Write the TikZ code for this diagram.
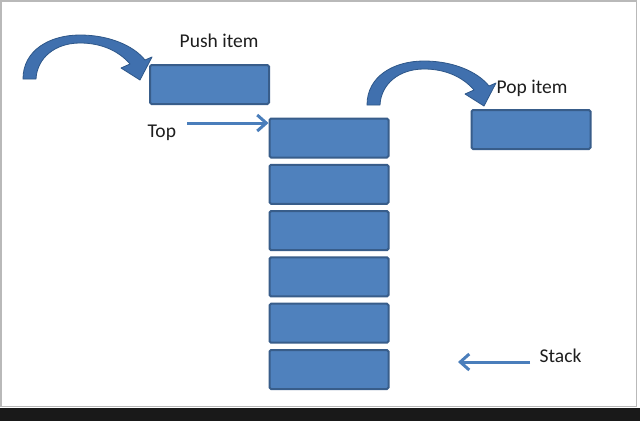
\documentclass[tikz,border=0pt]{standalone}
\usepackage{fontspec}
\setmainfont{Carlito}
\usetikzlibrary{arrows.meta,calc}
\definecolor{boxfill}{HTML}{4F81BD}
\definecolor{boxedge}{HTML}{385D8A}
\definecolor{curvfill}{HTML}{4070AE}
\definecolor{curvedge}{HTML}{2E5789}
\definecolor{linecol}{HTML}{4A7EBB}
\definecolor{txt}{HTML}{1E1E1E}
\tikzset{
  itembox/.style={draw=boxedge, fill=boxfill, line width=2pt, rounded corners=1.5pt,
    minimum width=119pt, minimum height=39pt, inner sep=0pt},
  lbl/.style={anchor=base west, inner sep=0pt, text=txt, font=\fontsize{19.5}{23}\selectfont},
  thinarrow/.style={draw=linecol, line width=3pt, -{Straight Barb[length=9pt,width=16pt,line width=3pt]}},
  curvarrow/.style={fill=curvfill, draw=curvedge, line width=0.8pt, line join=round}
}
\begin{document}
\begin{tikzpicture}[x=1pt,y=-1pt]
\useasboundingbox (0,0) rectangle (640,421);
\fill[white] (0,0) rectangle (640,421);
\fill[black!90] (0,408) rectangle (640,421);
\draw[gray!55, line width=1.5pt] (0.75,0.75) rectangle (636.5,406.5);

% boxes
\node[itembox] (push) at (209.5,84.5) {};
\node[itembox] (pop) at (531,129.5) {};
\node[itembox] (s1) at (329,138) {};
\node[itembox] (s2) at (329,184.3) {};
\node[itembox] (s3) at (329,230.6) {};
\node[itembox] (s4) at (329,276.9) {};
\node[itembox] (s5) at (329,323.2) {};
\node[itembox] (s6) at (329,369.5) {};

% labels
\node[lbl] (pushlbl) at (179.5,47.5) {Push item};
\node[lbl] (toplbl) at (147.5,137) {Top};
\node[lbl] (poplbl) at (496.5,93) {Pop item};
\node[lbl] (stacklbl) at (539.5,362) {Stack};

% straight arrows
\coordinate (topA) at (187,123);
\draw[thinarrow] (topA) -- (topA -| s1.west);
\coordinate (stA) at (530,362);
\coordinate (stB) at (458,362);
\draw[thinarrow] (stA) -- (stB);

% curved arrows
\def\curvedarrow{
  (23,79) .. controls (23,50) and (50,35) .. (80,35)
  .. controls (108,35) and (133,45) .. (145,60)
  -- (152,57) -- (140,80) -- (121,68) -- (130,64)
  .. controls (118,50) and (100,43) .. (80,43)
  .. controls (55,43) and (37,58) .. (36,79) -- cycle}
\path[curvarrow] \curvedarrow;
\begin{scope}[shift={(344,26)}]
\path[curvarrow] \curvedarrow;
\end{scope}
\end{tikzpicture}
\end{document}
